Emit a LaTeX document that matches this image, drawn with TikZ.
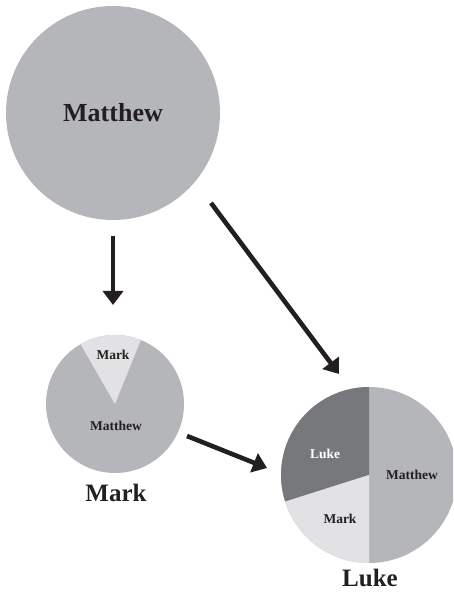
\documentclass[tikz,border=0pt]{standalone}
\usepackage{fontspec}
\setmainfont{Liberation Serif}
\usetikzlibrary{arrows.meta}
\definecolor{mattc}{RGB}{181,182,186}
\definecolor{markc}{RGB}{226,226,228}
\definecolor{lukec}{RGB}{119,120,124}
\definecolor{inkc}{RGB}{35,31,32}
\tikzset{
  pie/.style={circle, inner sep=0pt, fill=mattc},
  biglab/.style={font=\fontsize{25}{28}\selectfont\bfseries, text=inkc, inner sep=0pt},
  smalllab/.style={font=\fontsize{13.5}{15}\selectfont\bfseries, text=inkc, inner sep=0pt},
  flow/.style={line width=4.6pt, draw=inkc, -{Triangle[width=20pt,length=14pt]}}
}
\begin{document}
\begin{tikzpicture}[x=1pt,y=1pt]
\useasboundingbox (0,0) rectangle (453,593);
\clip (0,0) rectangle (453,593);
% big Matthew circle
\node[pie, minimum size=214pt] (matt) at (113,480) {};
\node[biglab, font=\fontsize{26}{30}\selectfont\bfseries] (mattlab) at (113,480) {Matthew};
% Mark circle
\node[pie, minimum size=138pt] (mark) at (115,189) {};
\fill[markc] (mark.center) -- +(68:69) arc[start angle=68, end angle=120, radius=69] -- cycle;
\node[smalllab] (markwedge) at (113,238) {Mark};
\node[smalllab] (markmatt) at (116,167) {Matthew};
\node[biglab] (marklab) at (116,100) {Mark};
% Luke circle
\node[pie, minimum size=176pt] (luke) at (369,118) {};
\fill[lukec] (luke.center) -- +(90:88) arc[start angle=90, end angle=197.6, radius=88] -- cycle;
\fill[markc] (luke.center) -- +(197.6:88) arc[start angle=197.6, end angle=270, radius=88] -- cycle;
\node[smalllab, text=white] (lukeluke) at (325,139) {Luke};
\node[smalllab] (lukematt) at (412,118) {Matthew};
\node[smalllab] (lukemark) at (340,74) {Mark};
\node[biglab] (lukelab) at (370,15) {Luke};
% arrows
\coordinate (a1s) at (113,357);
\coordinate (a1e) at (113,288);
\coordinate (a2s) at (211,390);
\coordinate (a2e) at (339,219);
\coordinate (a3s) at (187,157);
\coordinate (a3e) at (267,125);
\draw[flow] (a1s) -- (a1e);
\draw[flow] (a2s) -- (a2e);
\draw[flow] (a3s) -- (a3e);
\end{tikzpicture}
\end{document}
